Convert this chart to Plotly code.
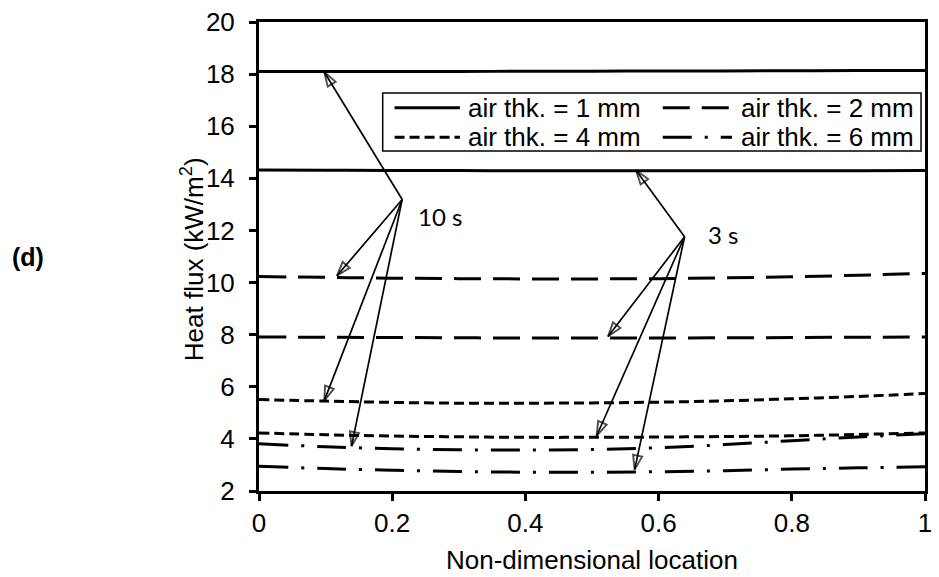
import plotly.graph_objects as go

# Non-dimensional location along the surface
x_loc = [0.0, 0.1, 0.2, 0.3, 0.4, 0.5, 0.6, 0.7, 0.8, 0.9, 1.0]

# Heat flux (kW/m2) at 10 s
q_1mm_10s = [18.10, 18.10, 18.10, 18.10, 18.11, 18.11, 18.12, 18.12, 18.13, 18.14, 18.14]
q_2mm_10s = [10.23, 10.20, 10.17, 10.15, 10.14, 10.14, 10.15, 10.18, 10.22, 10.28, 10.35]
q_4mm_10s = [5.51, 5.45, 5.40, 5.37, 5.37, 5.38, 5.41, 5.46, 5.54, 5.63, 5.74]
q_6mm_10s = [3.81, 3.70, 3.62, 3.58, 3.57, 3.59, 3.66, 3.78, 3.93, 4.07, 4.20]

# Heat flux (kW/m2) at 3 s
q_1mm_3s = [14.32, 14.31, 14.30, 14.30, 14.29, 14.29, 14.29, 14.29, 14.29, 14.29, 14.30]
q_2mm_3s = [7.91, 7.90, 7.89, 7.88, 7.87, 7.87, 7.87, 7.88, 7.89, 7.90, 7.91]
q_4mm_3s = [4.23, 4.16, 4.11, 4.08, 4.06, 4.06, 4.07, 4.09, 4.12, 4.17, 4.23]
q_6mm_3s = [2.95, 2.86, 2.80, 2.75, 2.72, 2.72, 2.74, 2.78, 2.84, 2.89, 2.93]

legend_labels = ["air thk. = 1 mm", "air thk. = 2 mm", "air thk. = 4 mm", "air thk. = 6 mm"]
x_ticks = [0, 0.2, 0.4, 0.6, 0.8, 1]
x_tick_text = ["0", "0.2", "0.4", "0.6", "0.8", "1"]
y_ticks = [2, 4, 6, 8, 10, 12, 14, 16, 18, 20]

# Callout points for the time labels and the curves they point at
label_10s = (0.215, 13.19)
targets_10s = [(0.098, 18.08), (0.117, 10.26), (0.098, 5.47), (0.139, 3.72)]
label_3s = (0.639, 11.76)
targets_3s = [(0.566, 14.31), (0.524, 7.93), (0.507, 4.12), (0.564, 2.82)]

DASHES = {
    "1": "solid",
    "2": "27px,12px",
    "4": "10px,5px",
    "6": "29px,13px,3px,13px",
}

W, H = 939, 577
L, R, T, B = 259, 7, 17, 84
PW, PH = W - L - R, H - T - B


def px_x(p):
    return (p - L) / PW


def px_y(p):
    return (H - B - p) / PH


fig = go.Figure()

series = [
    (q_1mm_10s, "1"), (q_1mm_3s, "1"),
    (q_2mm_10s, "2"), (q_2mm_3s, "2"),
    (q_4mm_10s, "4"), (q_4mm_3s, "4"),
    (q_6mm_10s, "6"), (q_6mm_3s, "6"),
]
for yv, key in series:
    fig.add_trace(go.Scatter(
        x=x_loc, y=yv, mode="lines",
        line=dict(color="black", width=3, dash=DASHES[key], shape="spline"),
        showlegend=False, hoverinfo="skip",
    ))

# callout arrows: thin shaft with an open head at the curve
for origin, targets in ((label_10s, targets_10s), (label_3s, targets_3s)):
    for (tx, ty) in targets:
        fig.add_trace(go.Scatter(
            x=[origin[0], tx], y=[origin[1], ty], mode="lines+markers",
            line=dict(color="black", width=1.7),
            marker=dict(symbol=["circle", "arrow-open"], size=[0, 15],
                        angleref="previous", color="black",
                        line=dict(color="black", width=1.9)),
            showlegend=False, hoverinfo="skip",
        ))

annotations = []
annotations.append(dict(
    x=label_10s[0], y=label_10s[1], xref="x", yref="y", text="10 s",
    showarrow=False, xanchor="left", yanchor="middle", xshift=14, yshift=-17,
    font=dict(family="Lato", size=24, color="black"),
))
annotations.append(dict(
    x=label_3s[0], y=label_3s[1], xref="x", yref="y", text="3 s",
    showarrow=False, xanchor="left", yanchor="middle", xshift=21, yshift=2,
    font=dict(family="Lato", size=24, color="black"),
))

# panel tag
annotations.append(dict(
    x=px_x(26), y=px_y(256), xref="paper", yref="paper", text="<b>(d)</b>",
    showarrow=False, xanchor="center", yanchor="middle",
    font=dict(family="Liberation Sans, Arial", size=25, color="black"),
))

axis_font = dict(family="Liberation Sans, Arial", size=26, color="black")

# y-axis title
annotations.append(dict(
    x=px_x(192), y=px_y(258), xref="paper", yref="paper",
    text="Heat flux (kW/m<sup>2</sup>)", textangle=-90,
    showarrow=False, xanchor="center", yanchor="middle", font=axis_font,
))

# legend box with line keys
shapes = [dict(
    type="rect", xref="paper", yref="paper",
    x0=px_x(384), x1=px_x(928), y0=px_y(148), y1=px_y(89),
    line=dict(color="black", width=1.5), fillcolor="white", layer="above",
)]
key_rows = [(104, 396, 462, 468, "1"), (104, 667, 737, 744, "2"),
            (134, 396, 462, 468, "4"), (134, 667, 737, 744, "6")]
for (ry, kx0, kx1, tx, key), lab in zip(key_rows, legend_labels):
    shapes.append(dict(
        type="line", xref="paper", yref="paper",
        x0=px_x(kx0), x1=px_x(kx1), y0=px_y(ry), y1=px_y(ry),
        line=dict(color="black", width=3, dash=DASHES[key]), layer="above",
    ))
    annotations.append(dict(
        x=px_x(tx), y=px_y(ry), xref="paper", yref="paper", text=lab,
        showarrow=False, xanchor="left", yanchor="middle", font=axis_font,
    ))

fig.update_layout(
    width=W, height=H,
    margin=dict(l=L, r=R, t=T, b=B),
    paper_bgcolor="white", plot_bgcolor="white",
    showlegend=False,
    shapes=shapes, annotations=annotations,
    font=axis_font,
    xaxis=dict(
        range=[0, 1], tickvals=x_ticks, ticktext=x_tick_text,
        showgrid=False, zeroline=False,
        showline=True, linecolor="black", linewidth=3, mirror=True,
        ticks="outside", ticklen=7, tickwidth=2.5, tickcolor="black",
        tickfont=axis_font,
        title=dict(text="Non-dimensional location", font=axis_font, standoff=14),
    ),
    yaxis=dict(
        range=[2, 20], tickvals=y_ticks,
        showgrid=False, zeroline=False,
        showline=True, linecolor="black", linewidth=3, mirror=True,
        ticks="outside", ticklen=7, tickwidth=2.5, tickcolor="black",
        tickfont=axis_font, ticklabelstandoff=9,
    ),
)

fig.write_html("out.html")
